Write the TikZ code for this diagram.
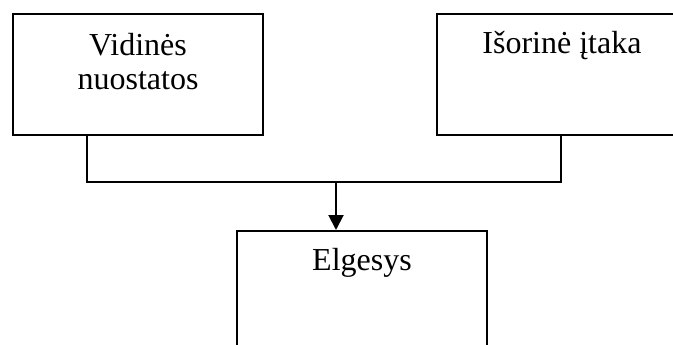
\documentclass[tikz,border=0pt]{standalone}
\usepackage{fontspec}
\setmainfont{Liberation Serif}
\usetikzlibrary{arrows.meta,calc}
\tikzset{
  box/.style={draw, line width=2pt, anchor=north west, minimum width=250pt, minimum height=121pt, inner sep=0pt},
  txt/.style={align=center, inner sep=0pt, font=\fontsize{32}{35}\selectfont, anchor=base},
  conn/.style={line width=2pt},
}
\begin{document}
\begin{tikzpicture}[x=1pt,y=-1pt]
\useasboundingbox (0,0) rectangle (673,345);
\clip (0,0) rectangle (673,345);
\node[box] (vid) at (12,13) {};
\node[box] (isor) at (436,13) {};
\node[box] (elg) at (236,230) {};
\node[txt] (vidt) at ([yshift=-77pt]vid.north) {Vidinės\\nuostatos};
\node[txt] (isort) at ([yshift=-41pt]isor.north) {Išorinė įtaka};
\node[txt] (elgt) at ([yshift=-40pt]elg.north) {Elgesys};
\coordinate (j) at (336,182);
\draw[conn] ([xshift=75pt]vid.south west) |- (j) -| ([xshift=125pt]isor.south west);
\draw[conn,-{Triangle[width=15pt,length=15pt]}] (j) -- (elg.north -| j);
\end{tikzpicture}
\end{document}
